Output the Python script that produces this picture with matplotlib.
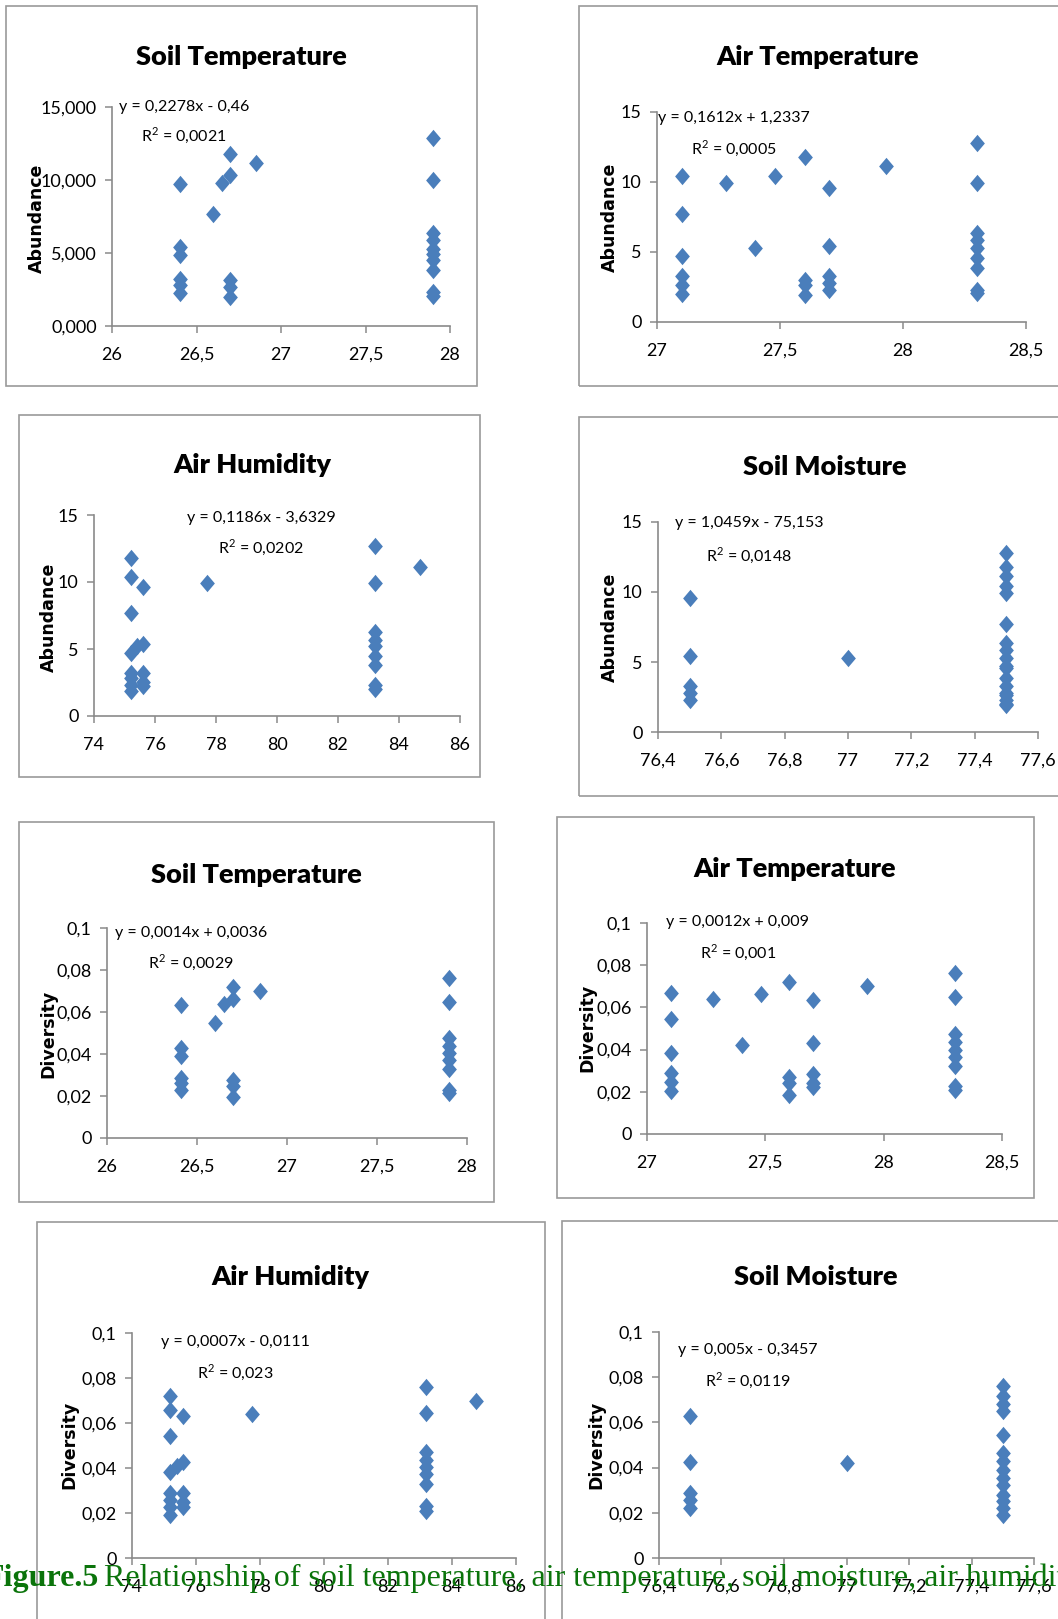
import matplotlib
matplotlib.use("Agg")
import matplotlib.pyplot as plt
from matplotlib.patches import Rectangle
from matplotlib.path import Path

# ---------------------------------------------------------------
# data (x = environment factor, y = abundance / diversity)
# ---------------------------------------------------------------
soil_temp_abund_x = [26.4, 26.4, 26.4, 26.4, 26.4, 26.4, 26.6, 26.65,
                     26.7, 26.7, 26.7, 26.7, 26.7, 26.85,
                     27.9, 27.9, 27.9, 27.9, 27.9, 27.9, 27.9, 27.9, 27.9, 27.9]
soil_temp_abund_y = [9.7, 5.4, 4.85, 3.25, 2.8, 2.25, 7.7, 9.8,
                     11.75, 10.35, 3.15, 2.7, 2.0, 11.15,
                     12.85, 10.0, 6.35, 5.9, 5.3, 4.9, 4.5, 3.85, 2.3, 2.05]

air_temp_abund_x = [27.1, 27.1, 27.1, 27.1, 27.1, 27.1, 27.28, 27.4, 27.48,
                    27.6, 27.6, 27.6, 27.6, 27.7, 27.7, 27.7, 27.7, 27.7, 27.93,
                    28.3, 28.3, 28.3, 28.3, 28.3, 28.3, 28.3, 28.3, 28.3]
air_temp_abund_y = [10.4, 7.7, 4.7, 3.25, 2.65, 2.0, 9.95, 5.3, 10.4,
                    11.8, 3.0, 2.65, 1.95, 9.6, 5.45, 3.3, 2.8, 2.3, 11.15,
                    12.75, 9.95, 6.35, 5.85, 5.25, 4.55, 3.85, 2.3, 2.05]

air_hum_abund_x = [75.2, 75.2, 75.2, 75.2, 75.2, 75.2, 75.2, 75.2, 75.4,
                   75.6, 75.6, 75.6, 75.6, 75.6, 77.7,
                   83.2, 83.2, 83.2, 83.2, 83.2, 83.2, 83.2, 83.2, 83.2, 84.7]
air_hum_abund_y = [11.8, 10.35, 7.65, 4.7, 3.2, 2.8, 2.3, 1.85, 5.2,
                   9.6, 5.4, 3.2, 2.55, 2.25, 9.9,
                   12.7, 9.9, 6.3, 5.7, 5.2, 4.45, 3.8, 2.3, 2.05, 11.1]

soil_moist_abund_x = [76.5, 76.5, 76.5, 76.5, 76.5, 77.0,
                      77.5, 77.5, 77.5, 77.5, 77.5, 77.5, 77.5, 77.5, 77.5,
                      77.5, 77.5, 77.5, 77.5, 77.5, 77.5, 77.5, 77.5, 77.5]
soil_moist_abund_y = [9.6, 5.4, 3.3, 2.8, 2.25, 5.3,
                      12.75, 11.8, 11.15, 10.4, 9.95, 7.7, 6.35, 5.85, 5.3,
                      4.7, 4.55, 3.85, 3.25, 2.8, 2.65, 2.3, 2.0, 1.95]

soil_temp_div_x = [26.41, 26.41, 26.41, 26.41, 26.41, 26.41, 26.6, 26.65,
                   26.7, 26.7, 26.7, 26.7, 26.7, 26.85,
                   27.9, 27.9, 27.9, 27.9, 27.9, 27.9, 27.9, 27.9, 27.9]
soil_temp_div_y = [0.0635, 0.043, 0.039, 0.0287, 0.026, 0.0228, 0.055, 0.064,
                   0.072, 0.066, 0.0275, 0.0248, 0.0196, 0.070,
                   0.0763, 0.065, 0.0476, 0.044, 0.0406, 0.037, 0.033, 0.0228, 0.0216]

air_temp_div_x = [27.1, 27.1, 27.1, 27.1, 27.1, 27.1, 27.28, 27.4, 27.48,
                  27.6, 27.6, 27.6, 27.6, 27.7, 27.7, 27.7, 27.7, 27.7, 27.93,
                  28.3, 28.3, 28.3, 28.3, 28.3, 28.3, 28.3, 28.3, 28.3]
air_temp_div_y = [0.0666, 0.0547, 0.0385, 0.0287, 0.0248, 0.0203, 0.064, 0.042, 0.0662,
                  0.0721, 0.0271, 0.0243, 0.0187, 0.0634, 0.043, 0.0282, 0.0243, 0.0224, 0.070,
                  0.0763, 0.0647, 0.0476, 0.0437, 0.0397, 0.0366, 0.0322, 0.0227, 0.0208]

air_hum_div_x = [75.2, 75.2, 75.2, 75.2, 75.2, 75.2, 75.2, 75.2, 75.4,
                 75.6, 75.6, 75.6, 75.6, 75.6, 77.75,
                 83.2, 83.2, 83.2, 83.2, 83.2, 83.2, 83.2, 83.2, 83.2, 84.75]
air_hum_div_y = [0.072, 0.0657, 0.0544, 0.0381, 0.0288, 0.0258, 0.0225, 0.0192, 0.041,
                 0.0631, 0.0425, 0.0288, 0.0251, 0.0226, 0.0638,
                 0.0761, 0.0646, 0.0473, 0.0436, 0.0406, 0.0372, 0.0328, 0.0233, 0.0211, 0.0697]

soil_moist_div_x = [76.5, 76.5, 76.5, 76.5, 76.5, 77.0,
                    77.5, 77.5, 77.5, 77.5, 77.5, 77.5, 77.5, 77.5, 77.5,
                    77.5, 77.5, 77.5, 77.5, 77.5]
soil_moist_div_y = [0.063, 0.0425, 0.0288, 0.0255, 0.0221, 0.042,
                    0.0763, 0.0715, 0.068, 0.0649, 0.0546, 0.0465, 0.0428, 0.0391, 0.0354,
                    0.0324, 0.028, 0.0251, 0.0221, 0.0192]

titles = ["Soil Temperature", "Air Temperature", "Air Humidity", "Soil Moisture",
          "Soil Temperature", "Air Temperature", "Air Humidity", "Soil Moisture"]
equations = ["y = 0,2278x - 0,46", "y = 0,1612x + 1,2337", "y = 0,1186x - 3,6329",
             "y = 1,0459x - 75,153", "y = 0,0014x + 0,0036", "y = 0,0012x + 0,009",
             "y = 0,0007x - 0,0111", "y = 0,005x - 0,3457"]
r_squared = ["0,0021", "0,0005", "0,0202", "0,0148",
             "0,0029", "0,001", "0,023", "0,0119"]

# axis ticks
temp_soil_ticks = [26, 26.5, 27, 27.5, 28]
temp_soil_labels = ["26", "26,5", "27", "27,5", "28"]
temp_air_ticks = [27, 27.5, 28, 28.5]
temp_air_labels = ["27", "27,5", "28", "28,5"]
hum_ticks = [74, 76, 78, 80, 82, 84, 86]
hum_labels = ["74", "76", "78", "80", "82", "84", "86"]
moist_ticks = [76.4, 76.6, 76.8, 77.0, 77.2, 77.4, 77.6]
moist_labels = ["76,4", "76,6", "76,8", "77", "77,2", "77,4", "77,6"]
abund_ticks = [0, 5, 10, 15]
abund_labels_first = ["0,000", "5,000", "10,000", "15,000"]
abund_labels = ["0", "5", "10", "15"]
div_ticks = [0, 0.02, 0.04, 0.06, 0.08, 0.1]
div_labels = ["0", "0,02", "0,04", "0,06", "0,08", "0,1"]

caption_bold = "Figure.5"
caption_rest = "Relationship of soil temperature, air temperature, soil moisture, air humidity"

# ---------------------------------------------------------------
# layout (pixel positions in the 1058 x 1619 picture)
# ---------------------------------------------------------------
W, H = 1058, 1619
CHART_FONT = ["Lato", "DejaVu Sans"]
BLUE = "#4a7ebb"
GREY = "#8a8a8a"

plt.rcParams["mathtext.fontset"] = "custom"
plt.rcParams["mathtext.rm"] = "Lato"

# each: data, ticks, plot area (x0, ytop, x1, ybottom), frame box, title xy,
#       equation centre x / line y's, y-label xy
panels = [
    (soil_temp_abund_x, soil_temp_abund_y, temp_soil_ticks, temp_soil_labels,
     abund_ticks, abund_labels_first, "Abundance",
     (112, 107, 450, 326), (6, 6, 477, 386), (241, 65), (184, 107, 135), (37, 218)),
    (air_temp_abund_x, air_temp_abund_y, temp_air_ticks, temp_air_labels,
     abund_ticks, abund_labels, "Abundance",
     (657, 112, 1026, 322), (579, 6, 1070, 386), (818, 65), (734, 118, 148), (610, 217)),
    (air_hum_abund_x, air_hum_abund_y, hum_ticks, hum_labels,
     abund_ticks, abund_labels, "Abundance",
     (94, 515, 460, 716), (19, 415, 480, 777), (252, 473), (261, 518, 547), (49, 617)),
    (soil_moist_abund_x, soil_moist_abund_y, moist_ticks, moist_labels,
     abund_ticks, abund_labels, "Abundance",
     (658, 522, 1038, 732), (579, 417, 1070, 796), (825, 475), (749, 523, 555), (610, 627)),
    (soil_temp_div_x, soil_temp_div_y, temp_soil_ticks, temp_soil_labels,
     div_ticks, div_labels, "Diversity",
     (107, 928, 467, 1138), (19, 822, 494, 1202), (256, 883), (191, 933, 962), (48, 1034)),
    (air_temp_div_x, air_temp_div_y, temp_air_ticks, temp_air_labels,
     div_ticks, div_labels, "Diversity",
     (647, 923, 1002, 1134), (557, 817, 1034, 1198), (795, 877), (738, 922, 952), (587, 1028)),
    (air_hum_div_x, air_hum_div_y, hum_ticks, hum_labels,
     div_ticks, div_labels, "Diversity",
     (132, 1333, 516, 1558), (37, 1222, 545, 1640), (290, 1285), (235, 1342, 1372), (69, 1445)),
    (soil_moist_div_x, soil_moist_div_y, moist_ticks, moist_labels,
     div_ticks, div_labels, "Diversity",
     (659, 1332, 1034, 1558), (562, 1221, 1070, 1640), (816, 1285), (748, 1350, 1380), (596, 1445)),
]

# excel style diamond
diamond = Path([(0, 1), (0.85, 0), (0, -1), (-0.85, 0), (0, 1)],
               [Path.MOVETO, Path.LINETO, Path.LINETO, Path.LINETO, Path.CLOSEPOLY])


def fx(px):
    return px / W


def fy(py):
    return 1 - py / H


fig = plt.figure(figsize=(W / 100, H / 100), dpi=100)
fig.patch.set_facecolor("white")

for i, (xs, ys, xt, xl, yt, yl, ylab, area, box, tpos, epos, lpos) in enumerate(panels):
    # frame of each excel chart
    bx0, by0, bx1, by1 = box
    fig.add_artist(Rectangle((fx(bx0), fy(by1)), (bx1 - bx0) / W, (by1 - by0) / H,
                             transform=fig.transFigure, fill=False,
                             ec="#9a9a9a", lw=1.2, zorder=0))

    x0, yt0, x1, yb = area
    ax = fig.add_axes([fx(x0), fy(yb), (x1 - x0) / W, (yb - yt0) / H])
    ax.patch.set_alpha(0)
    ax.plot(xs, ys, linestyle="none", marker=diamond, markersize=12.5,
            color=BLUE, markeredgewidth=0, clip_on=False)
    ax.set_xlim(xt[0], xt[-1])
    ax.set_ylim(yt[0], yt[-1])
    ax.set_xticks(xt)
    ax.set_xticklabels(xl, family=CHART_FONT, fontsize=13)
    ax.set_yticks(yt)
    ax.set_yticklabels(yl, family=CHART_FONT, fontsize=13)
    for s in ["top", "right"]:
        ax.spines[s].set_visible(False)
    for s in ["left", "bottom"]:
        ax.spines[s].set_color(GREY)
        ax.spines[s].set_linewidth(1.2)
    ax.tick_params(axis="both", direction="out", length=5, width=1.1, color=GREY)
    ax.tick_params(axis="x", pad=10)
    ax.tick_params(axis="y", pad=6)

    fig.text(fx(tpos[0]), fy(tpos[1]), titles[i], family=CHART_FONT, fontsize=19.5,
             fontweight="heavy", ha="center", va="baseline")
    fig.text(fx(epos[0]), fy(epos[1]), equations[i], family=CHART_FONT, fontsize=11.5,
             ha="center", va="center")
    fig.text(fx(epos[0]), fy(epos[2]), "R$^2$ = " + r_squared[i], family=CHART_FONT,
             fontsize=11.5, ha="center", va="center")
    fig.text(fx(lpos[0]), fy(lpos[1]), ylab, fontsize=12.5, fontweight="bold",
             rotation=90, ha="center", va="center")

# caption running across the bottom, partly cut off like the source
fig.text(fx(99), fy(1586), caption_bold, family="Liberation Serif", fontsize=23,
         fontweight="bold", color="#0b740b", ha="right", va="baseline", zorder=10)
fig.text(fx(104), fy(1586), caption_rest, family="Liberation Serif", fontsize=23,
         color="#0b740b", ha="left", va="baseline", zorder=10)

fig.savefig("out.png", dpi=100)
